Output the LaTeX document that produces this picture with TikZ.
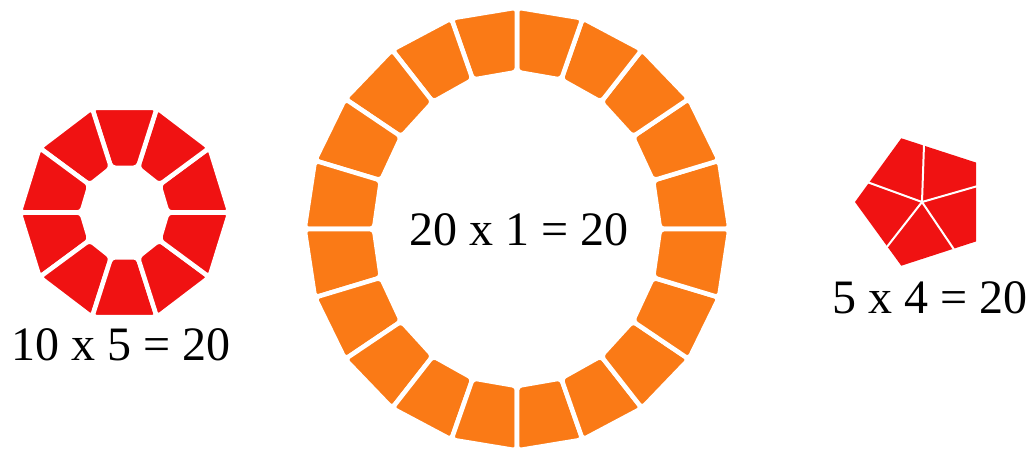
\documentclass[tikz,border=0pt]{standalone}
\usepackage{fontspec}
\setmainfont{Liberation Serif}
\usetikzlibrary{calc}
\definecolor{TileRed}{RGB}{240,18,18}
\definecolor{TileOrange}{RGB}{250,122,22}
\tikzset{
  tile/.style={draw=white,line width=2.3pt,line join=round,rounded corners=2pt},
  sum/.style={font=\fontsize{24}{28}\selectfont,anchor=base,inner sep=0pt}
}

\begin{document}
\begin{tikzpicture}[x=0.5pt,y=0.5pt]
\useasboundingbox (0,0) rectangle (1035,452);
\coordinate (ten) at (124.5,239.5);
\coordinate (twenty) at (517,223);
\coordinate (five) at (922,250);
% ten red tiles
\foreach \a in {0,36,...,324}
  \filldraw[tile,fill=TileRed,shift={(ten)}]
    (\a:105 and 110) -- (\a+36:105 and 110) -- (\a+36:43 and 47) -- (\a:43 and 47) -- cycle;
% twenty orange tiles
\foreach \a in {0,18,...,342}
  \filldraw[tile,fill=TileOrange,shift={(twenty)}]
    (\a:212.5 and 221.5) -- (\a+18:212.5 and 221.5) -- (\a+18:143 and 157) -- (\a:143 and 157) -- cycle;
% pentagon cut in five
\fill[TileRed,shift={(five)}] (36:67) -- (108:67) -- (180:67) -- (252:67) -- (324:67) -- cycle;
\foreach \a in {16,88,...,304}
  \draw[white,line width=1pt] (five) -- ++(\a:57);
\node[sum] (tensum) at (121,92) {10 x 5 = 20};
\node[sum] (twentysum) at (519,207) {20 x 1 = 20};
\node[sum] (fivesum) at (930,139) {5 x 4 = 20};
\end{tikzpicture}
\end{document}
